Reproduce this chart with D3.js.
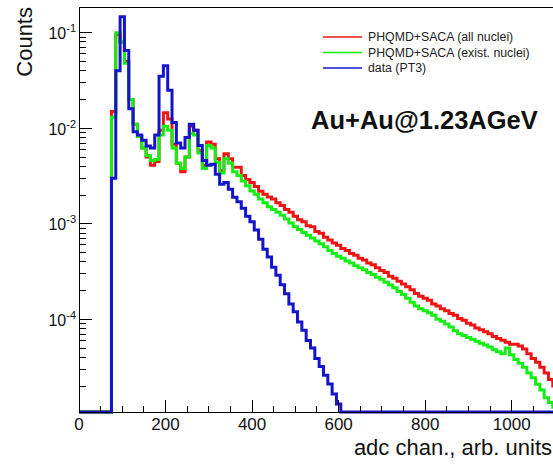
<!DOCTYPE html>
<html><head><meta charset="utf-8">
<script src="https://cdnjs.cloudflare.com/ajax/libs/d3/7.8.5/d3.min.js"></script>
<style>body{margin:0;background:#fff;} svg{display:block;font-family:"Liberation Sans",Arial,Helvetica,sans-serif;}</style>
</head><body><svg id="c" width="553" height="464"></svg>
<script>
// ---- data ----
const binLow = 75, binWidth = 10;   // histogram bins (adc units)
const seriesNames = ["PHQMD+SACA (all nuclei)", "PHQMD+SACA (exist. nuclei)", "data (PT3)"];
const seriesColors = ["#ee1414", "#14ee14", "#1414cc"];
const allNuclei = [
 0.015,0.095,0.08,0.05,0.02,0.011,0.0082,0.0062,0.0050,0.0041,
 0.0045,0.0095,0.0145,0.0125,0.0068,0.0043,0.0035,0.0050,0.0105,0.0095,
 0.0058,0.0041,0.0072,0.0068,0.0048,0.0036,0.0054,0.0048,0.0039,0.0039,
 0.0032,0.0029,0.0027,2.45e-3,2.19e-3,2.04e-3,1.91e-3,1.82e-3,1.66e-3,1.55e-3,
 1.41e-3,1.32e-3,1.20e-3,1.10e-3,1.05e-3,9.55e-4,9.3e-4,8.32e-4,7.94e-4,7.24e-4,
 6.76e-4,6.31e-4,5.95e-4,5.50e-4,5.25e-4,4.90e-4,4.68e-4,4.37e-4,4.17e-4,3.89e-4,
 3.72e-4,3.47e-4,3.24e-4,3.09e-4,2.82e-4,2.69e-4,2.51e-4,2.34e-4,2.19e-4,2.04e-4,
 1.86e-4,1.74e-4,1.66e-4,1.58e-4,1.45e-4,1.38e-4,1.29e-4,1.23e-4,1.15e-4,1.10e-4,
 1.02e-4,9.77e-5,9.12e-5,8.71e-5,8.13e-5,7.76e-5,7.41e-5,7.08e-5,6.61e-5,6.31e-5,
 6.03e-5,5.75e-5,5.50e-5,5.50e-5,5.25e-5,4.90e-5,4.37e-5,3.89e-5,3.55e-5,3.16e-5,
 2.75e-5,2.34e-5,2.00e-5
];
const existNuclei = [
 0.013,0.10,0.08,0.048,0.02,0.011,0.0082,0.0062,0.0052,0.0046,
 0.0047,0.0085,0.0105,0.0095,0.0062,0.0043,0.0038,0.0050,0.0088,0.0085,
 0.0055,0.0038,0.0066,0.0062,0.0044,0.0034,0.0048,0.0043,0.0035,0.0032,
 0.0028,0.0025,0.0022,2.04e-3,1.82e-3,1.66e-3,1.51e-3,1.41e-3,1.32e-3,1.23e-3,
 1.12e-3,1.02e-3,9.33e-4,8.71e-4,8.13e-4,7.59e-4,7.08e-4,6.61e-4,6.17e-4,5.75e-4,
 5.25e-4,4.90e-4,4.57e-4,4.37e-4,4.07e-4,3.89e-4,3.63e-4,3.47e-4,3.31e-4,3.09e-4,
 2.95e-4,2.75e-4,2.63e-4,2.45e-4,2.29e-4,2.14e-4,1.95e-4,1.82e-4,1.66e-4,1.51e-4,
 1.38e-4,1.29e-4,1.23e-4,1.17e-4,1.10e-4,1.00e-4,9.55e-5,8.91e-5,8.32e-5,7.59e-5,
 7.08e-5,6.76e-5,6.46e-5,6.17e-5,5.89e-5,5.62e-5,5.37e-5,5.13e-5,4.79e-5,4.57e-5,
 4.37e-5,5.01e-5,4.27e-5,3.80e-5,3.47e-5,3.16e-5,2.75e-5,2.45e-5,2.09e-5,1.82e-5,
 1.51e-5,1.35e-5,1.20e-5
];
const dataPT3 = [
 0.003,0.04,0.147,0.065,0.016,0.0092,0.0085,0.0075,0.0065,0.0062,
 0.0085,0.035,0.045,0.025,0.0115,0.0070,0.0062,0.0080,0.0110,0.0095,
 0.0066,0.0046,0.0041,0.0042,0.0033,0.0026,0.0027,0.0023,0.0019,0.0017,
 0.00145,0.0012,1.05e-3,8.6e-4,6.9e-4,5.4e-4,4.5e-4,3.5e-4,2.9e-4,2.3e-4,
 1.85e-4,1.45e-4,1.2e-4,9.4e-5,7.7e-5,6.0e-5,5.0e-5,3.9e-5,3.2e-5,2.6e-5,
 2.1e-5,1.65e-5,1.3e-5,
 0,0,0,0,0,0,0,0,0,0, 0,0,0,0,0,0,0,0,0,0, 0,0,0,0,0,0,0,0,0,0,
 0,0,0,0,0,0,0,0,0,0, 0,0,0,0,0,0,0,0,0,0
];
const xTickValues = [0,200,400,600,800,1000];
const yTickExponents = [-1,-2,-3,-4];
const xTitle = "adc chan., arb. units";
const yTitle = "Counts";
const annotation = "Au+Au@1.23AGeV";

// ---- layout ----
const svg = d3.select("#c");
const x = d3.scaleLinear().domain([0, 1150]).range([79, 79 + 1150 * 0.4327]);
const yMin = 1.0715e-5, yMax = 0.1858;
const y = d3.scaleLog().domain([yMin, yMax]).range([412, 7]);
const X0 = x(0), Y0 = y(yMin), YT = y(yMax);

svg.append("clipPath").attr("id","clip").append("rect")
  .attr("x", X0).attr("y", YT).attr("width", 600).attr("height", Y0 - YT + 2);

function histPoints(vals){
  const pts = [{u:0, v:0}];
  vals.forEach((v,i)=>pts.push({u: binLow + i*binWidth, v}));
  pts.push({u: binLow + vals.length*binWidth, v: vals[vals.length-1]});
  return pts;
}
const line = d3.line()
  .x(d => x(d.u))
  .y(d => d.v > 0 ? y(Math.max(d.v, yMin)) : Y0)
  .curve(d3.curveStepAfter);

const series = [allNuclei, existNuclei, dataPT3];
const g = svg.append("g").attr("clip-path","url(#clip)");
series.forEach((vals,i)=>{
  g.append("path").attr("d", line(histPoints(vals)))
    .attr("fill","none").attr("stroke", seriesColors[i])
    .attr("stroke-width", 3).attr("stroke-linejoin","miter");
});

// frame / axes
const ax = svg.append("g").attr("stroke","#000").attr("stroke-width",1).attr("shape-rendering","crispEdges");
ax.append("line").attr("x1",X0).attr("x2",X0).attr("y1",YT).attr("y2",Y0);
ax.append("line").attr("x1",X0).attr("x2",553).attr("y1",Y0).attr("y2",Y0);
ax.append("line").attr("x1",X0).attr("x2",553).attr("y1",YT).attr("y2",YT);

// x ticks
for (let u = 0; u <= 1150; u += 50) {
  const major = u % 200 === 0;
  ax.append("line").attr("x1", x(u)).attr("x2", x(u))
    .attr("y1", Y0).attr("y2", Y0 - (major ? 12 : 6));
}
svg.append("g").selectAll("text").data(xTickValues).join("text")
  .attr("x", d => x(d)).attr("y", 430).attr("text-anchor","middle")
  .attr("font-size", 17).attr("fill","#111").text(d => d);

// y ticks
yTickExponents.forEach(e=>{
  const yy = y(Math.pow(10,e));
  ax.append("line").attr("x1",X0).attr("x2",X0+13).attr("y1",yy).attr("y2",yy);
  const t = svg.append("text").attr("x", 76).attr("y", yy + 6.5).attr("text-anchor","end")
    .attr("fill","#111").attr("font-size",16);
  t.append("tspan").text("10");
  t.append("tspan").attr("font-size",11).attr("dy",-7).text("-" + Math.abs(e));
});
for (let e = -5; e <= -1; e++) {
  for (let m = 2; m <= 9; m++) {
    const v = m * Math.pow(10, e);
    if (v < yMin || v > yMax) continue;
    const yy = y(v);
    ax.append("line").attr("x1",X0).attr("x2",X0+7).attr("y1",yy).attr("y2",yy);
  }
}

// titles
svg.append("text").attr("x", 552).attr("y", 455).attr("text-anchor","end")
  .attr("font-size", 22).attr("fill","#111").text(xTitle);
svg.append("text").attr("transform","translate(32,7) rotate(-90)").attr("text-anchor","end")
  .attr("font-size", 22).attr("fill","#111").text(yTitle);

// legend
const legY = [37, 52.5, 68];
seriesNames.forEach((name,i)=>{
  svg.append("line").attr("x1",323).attr("x2",362).attr("y1",legY[i]).attr("y2",legY[i])
    .attr("stroke", seriesColors[i]).attr("stroke-width",1.3);
  svg.append("text").attr("x",368).attr("y",legY[i]+4.3).attr("font-size",12.3)
    .attr("fill","#222").text(name);
});
svg.append("text").attr("x",311).attr("y",129).attr("font-size",25.5).attr("font-weight","bold")
  .attr("fill","#111").text(annotation);
</script></body></html>
